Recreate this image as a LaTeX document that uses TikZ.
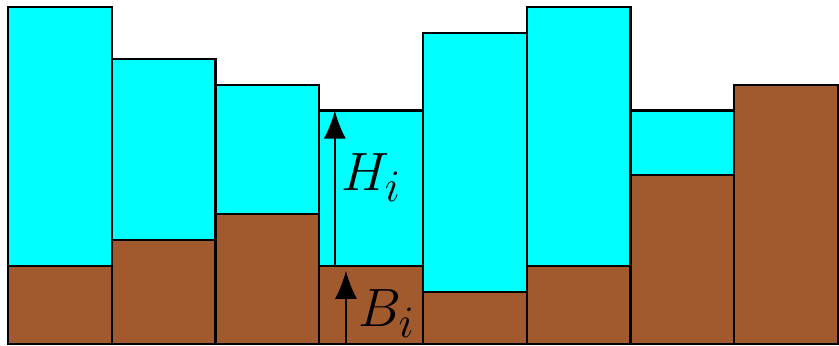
\documentclass[tikz,border=0pt]{standalone}
\usetikzlibrary{arrows.meta}
\definecolor{water}{RGB}{0,255,255}
\definecolor{soil}{RGB}{160,90,45}
\begin{document}
\begin{tikzpicture}[
  wbox/.style={fill=water,draw=black,line width=2.4pt},
  sbox/.style={fill=soil,draw=black,line width=2.4pt},
  harrow/.style={line width=1.8pt,-{Latex[length=1.08cm,width=0.85cm]}},
  lbl/.style={font=\Huge,scale=2.38,inner sep=0pt}
]
\useasboundingbox (-0.31,-0.077) rectangle (32.04,13.263);
% columns: x index, top, soil top
\foreach \i/\t/\b in {0/13/3,1/11/4,2/10/5,3/9/3,4/12/2,5/13/3,6/9/6.5}{
  \draw[wbox] ({4*\i},\b) rectangle ({4*\i+4},\t);
  \draw[sbox] ({4*\i},0) rectangle ({4*\i+4},\b);
}
\draw[sbox] (28,0) rectangle (32,10);
\coordinate (hs) at (12.6,3);
\coordinate (ht) at (12.6,9);
\coordinate (bs) at (13.03,0);
\coordinate (bt) at (13.03,2.82);
\draw[harrow] (hs) -- (ht);
\draw[harrow] (bs) -- (bt);
\node[lbl] (hl) at (14.0,6.42) {$H_i$};
\node[lbl] (bl) at (14.6,1.19) {$B_i$};
\end{tikzpicture}
\end{document}
